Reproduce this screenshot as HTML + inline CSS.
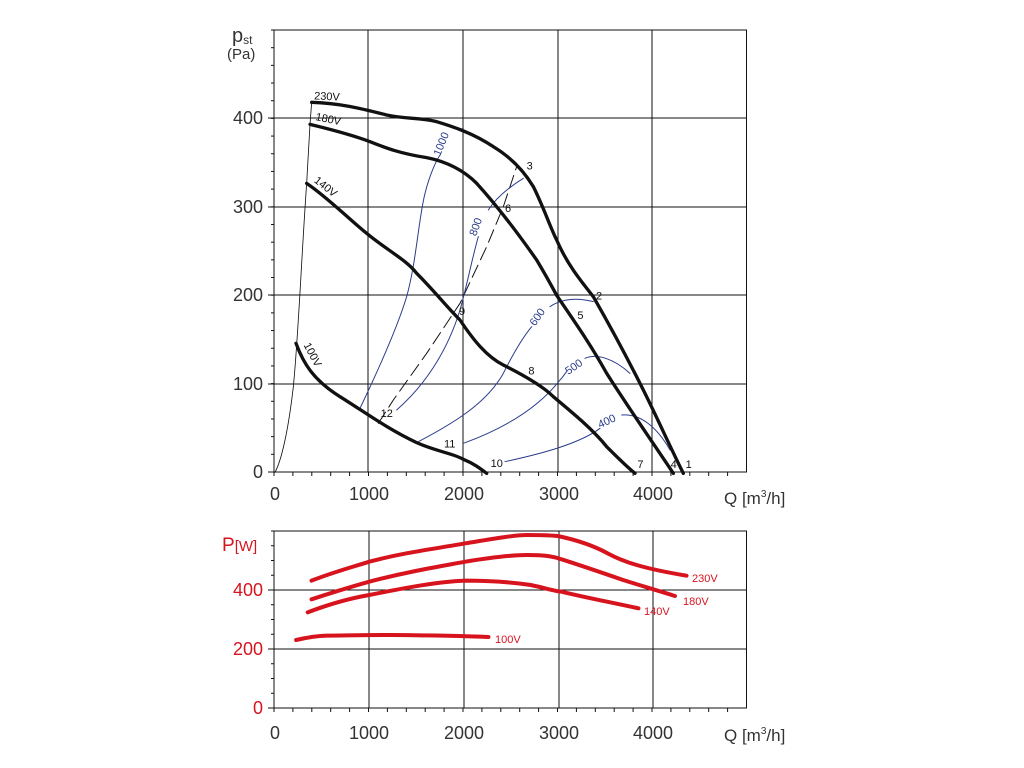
<!DOCTYPE html>
<html><head><meta charset="utf-8"><style>
html,body{margin:0;padding:0;background:#fff;}
svg{display:block;font-family:"Liberation Sans",sans-serif;}
</style></head><body>
<svg width="1024" height="768" viewBox="0 0 1024 768" xmlns="http://www.w3.org/2000/svg">
<rect width="1024" height="768" fill="#fff"/>
<!-- TOP CHART grid -->
<g stroke="#111" stroke-width="1" fill="none">
<rect x="274" y="30" width="472.5" height="442"/>
<line x1="368" y1="30" x2="368" y2="472"/><line x1="463" y1="30" x2="463" y2="472"/>
<line x1="558" y1="30" x2="558" y2="472"/><line x1="652" y1="30" x2="652" y2="472"/>
<line x1="268" y1="118" x2="746" y2="118"/><line x1="268" y1="207" x2="746" y2="207"/>
<line x1="268" y1="295" x2="746" y2="295"/><line x1="268" y1="384" x2="746" y2="384"/>
<line x1="268" y1="472" x2="274" y2="472"/>
</g>
<g stroke="#111" stroke-width="1" id="ticksTop"></g>
<!-- top curves in zoom coords -->
<g transform="translate(260,20) scale(0.33333)" fill="none" stroke-linejoin="round" stroke-linecap="round">
<path stroke="#111" stroke-width="2.5" d="M45,1357 C65,1320 85,1230 100,1100 C115,950 125,700 140,490 L150,313 L155,247"/>
<path stroke="#111" stroke-width="3" stroke-dasharray="40,18" d="M355,1210 L400,1140 L500,1000 L600,850 L680,680 L730,560 L770,440"/>
<g stroke="#2b3c8c" stroke-width="3">
<path d="M300,1165 C350,1060 410,930 440,830 C470,720 475,600 495,520 C510,460 530,420 540,405"/>
<path d="M600,330 L610,325"/>
<path d="M410,1170 C490,1100 560,1000 600,870 C620,800 635,720 655,650"/>
<path d="M685,570 C710,530 750,500 790,475"/>
<path d="M475,1265 C580,1210 680,1150 730,1060 C760,1000 790,950 815,920"/>
<path d="M870,860 C900,840 940,830 1000,845"/>
<path d="M610,1270 C720,1230 830,1170 900,1080 C910,1070 915,1060 920,1055"/>
<path d="M975,1015 C1010,1000 1060,1015 1110,1060"/>
<path d="M735,1325 C850,1300 960,1270 1020,1225"/>
<path d="M1085,1185 C1140,1180 1190,1220 1230,1290"/>
</g>
<g stroke="#111" stroke-width="10">
<path d="M155,247 C250,250 320,270 380,285 C440,298 480,292 530,305 C580,320 640,340 700,380 C750,410 790,450 820,500 C850,560 870,620 890,660 C920,730 960,780 1000,830 C1040,900 1090,990 1150,1110 C1190,1190 1230,1280 1270,1360"/>
<path d="M150,313 C220,330 290,350 330,365 C380,385 420,400 500,413 C560,425 610,450 650,490 C700,545 760,620 830,720 C860,770 890,826 890,826 C940,900 990,970 1040,1060 C1110,1170 1180,1270 1240,1360"/>
<path d="M140,490 C200,530 270,600 320,640 C380,690 440,720 470,760 C520,810 560,860 600,900 C640,960 680,1010 730,1035 C790,1065 850,1100 880,1130 C940,1180 1000,1230 1040,1280 C1070,1310 1100,1340 1125,1360"/>
<path d="M108,970 C130,1030 160,1080 240,1130 C320,1180 380,1225 470,1268 C530,1295 580,1300 610,1318 C640,1330 660,1345 680,1360"/>
</g>
<g font-size="33" fill="#111" stroke="none">
<text x="800" y="448">3</text><text x="735" y="576">6</text><text x="1008" y="838">2</text>
<text x="952" y="897">5</text><text x="597" y="885">9</text><text x="805" y="1063">8</text>
<text x="362" y="1191">12</text><text x="552" y="1283">11</text><text x="692" y="1341">10</text>
<text x="1132" y="1344">7</text><text x="1232" y="1344">4</text><text x="1277" y="1344">1</text>
<text x="162" y="238" transform="rotate(3 162 238)">230V</text>
<text x="165" y="300" transform="rotate(12 165 300)">180V</text>
<text x="160" y="485" transform="rotate(38 160 485)">140V</text>
<text x="130" y="975" transform="rotate(62 130 975)">100V</text>
</g>
<g font-size="33" fill="#2b3c8c" stroke="none">
<text x="540" y="410" transform="rotate(-68 540 410)">1000</text>
<text x="648" y="650" transform="rotate(-70 648 650)">800</text>
<text x="825" y="920" transform="rotate(-55 825 920)">600</text>
<text x="925" y="1065" transform="rotate(-35 925 1065)">500</text>
<text x="1020" y="1225" transform="rotate(-25 1020 1225)">400</text>
</g>
</g>
<g font-size="18" fill="#333" text-anchor="end">
<text x="263" y="124">400</text><text x="263" y="213">300</text><text x="263" y="301">200</text>
<text x="263" y="390">100</text><text x="263" y="478">0</text>
</g>
<g font-size="18" fill="#333" text-anchor="middle">
<text x="275" y="500">0</text><text x="369" y="500">1000</text><text x="464" y="500">2000</text>
<text x="559" y="500">3000</text><text x="653" y="500">4000</text>
</g>
<text x="724" y="504" font-size="17" fill="#333">Q [m<tspan font-size="10" dy="-7">3</tspan><tspan dy="7">/h]</tspan></text>
<text x="232" y="42" font-size="20" fill="#333">p<tspan font-size="12" dy="2">st</tspan></text>
<text x="227" y="59" font-size="15" fill="#333">(Pa)</text>

<!-- BOTTOM CHART -->
<g stroke="#111" stroke-width="1" fill="none">
<rect x="274" y="531" width="472.5" height="177"/>
<line x1="369" y1="531" x2="369" y2="708"/><line x1="464" y1="531" x2="464" y2="708"/>
<line x1="559" y1="531" x2="559" y2="708"/><line x1="653" y1="531" x2="653" y2="708"/>
<line x1="268" y1="590" x2="746" y2="590"/><line x1="268" y1="649" x2="746" y2="649"/>
<line x1="268" y1="708" x2="274" y2="708"/>
</g>
<g id="ticksBot" stroke="#111" stroke-width="1"></g>
<g transform="translate(200,510) scale(0.3846,0.33333)" fill="none" stroke="#d7141e" stroke-width="4" stroke-linecap="round" stroke-linejoin="round">
<path vector-effect="non-scaling-stroke" d="M290,212 C350,185 400,170 440,155 C540,125 620,115 690,100 C770,85 820,75 850,75 C900,75 930,78 930,78 C980,90 1020,105 1060,130 C1100,155 1150,175 1265,197"/>
<path vector-effect="non-scaling-stroke" d="M290,268 C350,245 400,228 440,215 C540,185 620,170 690,155 C770,140 820,135 850,135 C900,135 920,140 940,148 C1000,170 1050,190 1100,210 C1150,228 1200,245 1235,258"/>
<path vector-effect="non-scaling-stroke" d="M280,307 C330,285 390,265 440,255 C540,232 620,215 690,212 C760,212 820,218 860,225 C900,235 930,245 940,245 C1000,262 1060,275 1140,295"/>
<path vector-effect="non-scaling-stroke" d="M250,390 C280,382 300,378 330,377 C400,376 440,375 500,375 C600,376 690,378 750,381"/>
</g>
<g font-size="11" fill="#d7141e">
<text x="692" y="582">230V</text><text x="683" y="605">180V</text>
<text x="644" y="615">140V</text><text x="495" y="643">100V</text>
</g>
<g font-size="18" fill="#d7141e" text-anchor="end">
<text x="263" y="596">400</text><text x="263" y="655">200</text><text x="263" y="714">0</text>
</g>
<text x="222" y="551" font-size="19" fill="#d7141e">P<tspan font-size="15">[W]</tspan></text>
<g font-size="18" fill="#333" text-anchor="middle">
<text x="275" y="739">0</text><text x="369" y="739">1000</text><text x="464" y="739">2000</text>
<text x="559" y="739">3000</text><text x="653" y="739">4000</text>
</g>
<text x="724" y="741" font-size="17" fill="#333">Q [m<tspan font-size="10" dy="-7">3</tspan><tspan dy="7">/h]</tspan></text>
<script>
(function(){
var ns="http://www.w3.org/2000/svg";
function ln(g,x1,y1,x2,y2){var l=document.createElementNS(ns,"line");l.setAttribute("x1",x1);l.setAttribute("y1",y1);l.setAttribute("x2",x2);l.setAttribute("y2",y2);g.appendChild(l);}
var t=document.getElementById("ticksTop"),b=document.getElementById("ticksBot");
for(var p=0;p<=500;p+=20){var y=472-p*0.884;ln(t,271,y,274,y);}
for(var q=0;q<=4900;q+=200){var x=274+q*0.0945;ln(t,x,472,x,476);ln(b,x,708,x,712);}
for(var w=0;w<=600;w+=50){var y2=708-w*0.295;ln(b,271,y2,274,y2);}
})();
</script>
</svg>
</body></html>
